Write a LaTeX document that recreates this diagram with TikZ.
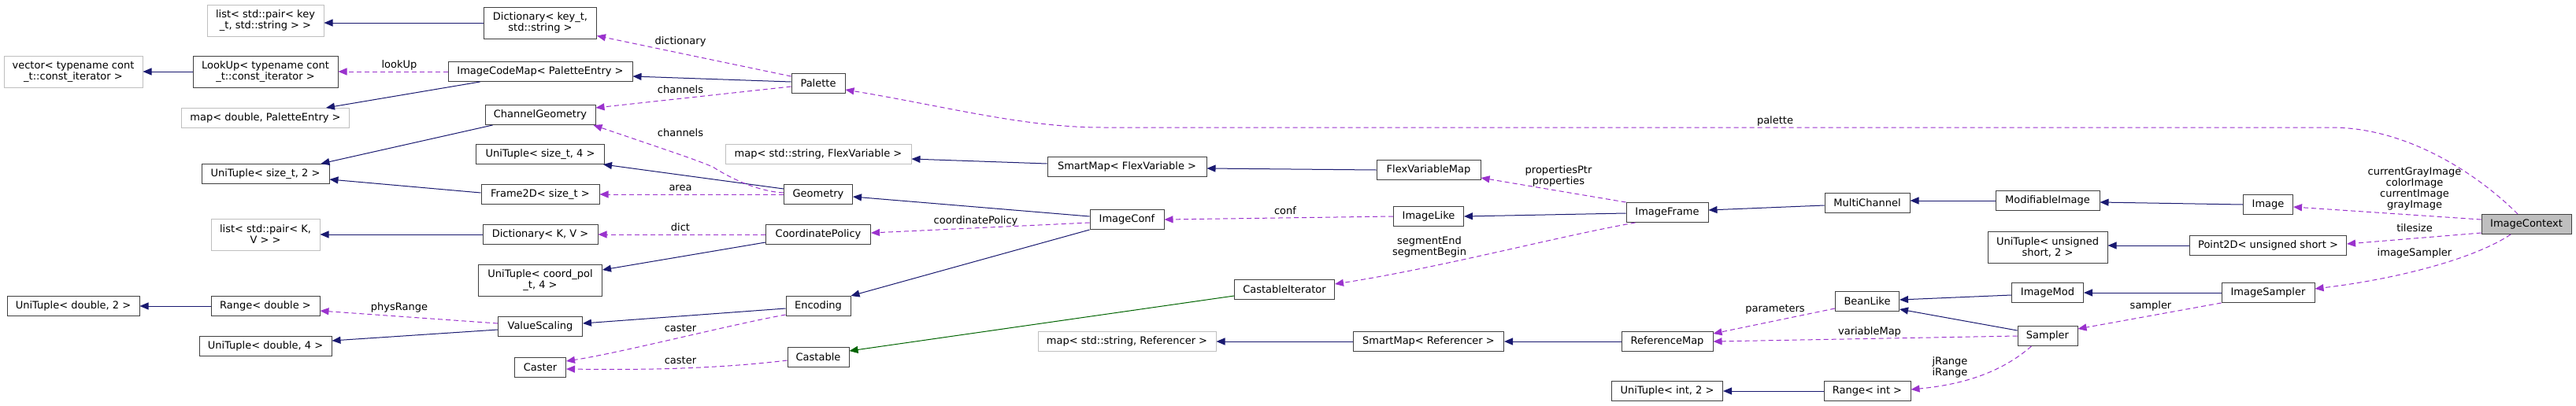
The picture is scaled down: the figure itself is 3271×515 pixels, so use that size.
\documentclass[tikz,border=0pt]{standalone}
\usepackage{fontspec}
\setmainfont{DejaVu Sans}
\usetikzlibrary{arrows.meta}
\definecolor{inhc}{HTML}{191970}
\definecolor{usec}{HTML}{9A32CD}
\definecolor{protc}{HTML}{006400}
\definecolor{bordc}{HTML}{404040}
\definecolor{extc}{HTML}{BFBFBF}
\newcommand\dfs{\fontsize{13}{14}\selectfont}
\tikzset{
  cls/.style={draw=bordc, line width=1pt, fill=white, inner sep=0pt, minimum height=25pt, align=center, font=\dfs, text=black},
  ext/.style={cls, draw=extc},
  tall/.style={minimum height=40pt},
  inh/.style={draw=inhc, line width=1pt, -{Triangle[length=11pt,width=9pt]}},
  use/.style={draw=usec, line width=1pt, dash pattern=on 6pt off 4pt, -{Triangle[length=11pt,width=9pt]}},
  prot/.style={draw=protc, line width=1pt, -{Triangle[length=11pt,width=9pt]}},
  lbl/.style={font=\dfs, inner sep=0pt, align=center, text=black},
}
\begin{document}
\begin{tikzpicture}[x=1pt,y=-1pt]
\useasboundingbox[fill=white] (0,0) rectangle (3271,515);
% column 1
\node[ext,tall,minimum width=176pt] (vec) at (93,91) {vector< typename cont\\\_t::const\_iterator >};
\node[cls,minimum width=168pt] (ut2d) at (93,389) {UniTuple< double, 2 >};
% column 2
\node[ext,tall,minimum width=148pt] (lstkey) at (337,26) {list< std::pair< key\\\_t, std::string > >};
\node[cls,tall,minimum width=184pt] (lookup) at (337,91) {LookUp< typename cont\\\_t::const\_iterator >};
\node[ext,minimum width=213pt] (mapdbl) at (337,150) {map< double, PaletteEntry >};
\node[cls,minimum width=162pt] (ut2sz) at (337,221) {UniTuple< size\_t, 2 >};
\node[ext,tall,minimum width=138pt] (lstkv) at (337,298) {list< std::pair< K,\\V > >};
\node[cls,minimum width=138pt] (rngd) at (337,389) {Range< double >};
\node[cls,minimum width=168pt] (ut4d) at (337,440) {UniTuple< double, 4 >};
% column 3
\node[cls,tall,minimum width=143pt] (dictkey) at (686,29) {Dictionary< key\_t,\\std::string >};
\node[cls,minimum width=234pt] (icm) at (686,91) {ImageCodeMap< PaletteEntry >};
\node[cls,minimum width=140pt] (chgeo) at (686,146) {ChannelGeometry};
\node[cls,minimum width=163pt] (ut4sz) at (686,196) {UniTuple< size\_t, 4 >};
\node[cls,minimum width=150pt] (frame) at (686,247) {Frame2D< size\_t >};
\node[cls,minimum width=146pt] (dictkv) at (686,298) {Dictionary< K, V >};
\node[cls,tall,minimum width=157pt] (utcp) at (686,356) {UniTuple< coord\_pol\\\_t, 4 >};
\node[cls,minimum width=107pt] (vscale) at (686,415) {ValueScaling};
\node[cls,minimum width=65pt] (caster) at (686,467) {Caster};
% column 4
\node[cls,minimum width=68pt] (palette) at (1039,106) {Palette};
\node[ext,minimum width=236pt] (mapflex) at (1039,196) {map< std::string, FlexVariable >};
\node[cls,minimum width=87pt] (geometry) at (1039,247) {Geometry};
\node[cls,minimum width=133pt] (coordpol) at (1039,298) {CoordinatePolicy};
\node[cls,minimum width=82pt] (encoding) at (1039,389) {Encoding};
\node[cls,minimum width=78pt] (castable) at (1039,454) {Castable};
% column 5
\node[cls,minimum width=202pt] (smflex) at (1431,212) {SmartMap< FlexVariable >};
\node[cls,minimum width=94pt] (imgconf) at (1431,279) {ImageConf};
\node[ext,minimum width=226pt] (mapref) at (1431,434) {map< std::string, Referencer >};
\node[cls,minimum width=127pt] (castit) at (1631,368) {CastableIterator};
% column 6
\node[cls,minimum width=132pt] (flexmap) at (1814,216) {FlexVariableMap};
\node[cls,minimum width=89pt] (imglike) at (1814,275) {ImageLike};
\node[cls,minimum width=191pt] (smref) at (1814,434) {SmartMap< Referencer >};
% column 7
\node[cls,minimum width=104pt] (imgframe) at (2117,270) {ImageFrame};
\node[cls,minimum width=116pt] (refmap) at (2117,434) {ReferenceMap};
\node[cls,minimum width=141pt] (ut2int) at (2117,497) {UniTuple< int, 2 >};
% column 8
\node[cls,minimum width=108pt] (multich) at (2371,258) {MultiChannel};
\node[cls,minimum width=81pt] (beanlike) at (2371,383) {BeanLike};
\node[cls,minimum width=110pt] (rngint) at (2371,497) {Range< int >};
% column 9
\node[cls,minimum width=132pt] (modimg) at (2600,255) {ModifiableImage};
\node[cls,tall,minimum width=152pt] (utus) at (2600,314) {UniTuple< unsigned\\short, 2 >};
\node[cls,minimum width=91pt] (imgmod) at (2600,372) {ImageMod};
\node[cls,minimum width=76pt] (sampler) at (2600,427) {Sampler};
% column 10
\node[cls,minimum width=63pt] (image) at (2880,260) {Image};
\node[cls,minimum width=199pt] (point2d) at (2880,312) {Point2D< unsigned short >};
\node[cls,minimum width=118pt] (imgsampler) at (2880,372) {ImageSampler};
% root
\node[cls,fill=extc,minimum width=114pt] (ctx) at (3208,285) {ImageContext};

% edges
\draw[inh] (dictkey.west) -- (dictkey.west -| lstkey.east);
\draw[inh] (lookup) -- (vec);
\draw[inh] ([xshift=41pt]icm.south west) -- ([xshift=-30pt]mapdbl.north east);
\draw[inh] ([yshift=2pt]palette.west) -- ([yshift=-6pt]icm.east);
\draw[inh] ([xshift=10pt]chgeo.south west) -- ([xshift=-11pt]ut2sz.north east);
\draw[inh] ([yshift=2pt]frame.west) -- ([yshift=-7pt]ut2sz.east);
\draw[inh] ([yshift=7pt]geometry.west) -- ([xshift=-2pt]ut4sz.south east);
\draw[use] (geometry) -- (frame);
\draw[use] ([yshift=2pt]geometry.west) .. controls (960,243) and (925,225) .. (905,212) .. controls (880,202) .. ([xshift=-3pt]chgeo.south east);
\draw[use] ([yshift=-4pt]palette.west) -- ([yshift=9pt]chgeo.east);
\draw[use] ([yshift=-4pt]palette.north west) -- ([yshift=4pt]dictkey.south east);
\draw[use] (icm) -- (lookup);
\draw[inh] (dictkv) -- (lstkv);
\draw[use] (coordpol) -- (dictkv);
\draw[inh] ([yshift=-10pt]coordpol.west) -- ([yshift=13pt]utcp.east);
\draw[inh] (rngd) -- (ut2d);
\draw[use] ([yshift=4pt]vscale.west) -- ([yshift=-6pt]rngd.east);
\draw[inh] ([yshift=-4pt]vscale.west) -- ([yshift=7pt]ut4d.east);
\draw[inh] ([yshift=-3pt]encoding.west) -- ([yshift=4pt]vscale.east);
\draw[use] ([yshift=-11pt]encoding.west) .. controls (930,412) and (790,448) .. ([yshift=8pt]caster.east);
\draw[use] ([yshift=-4pt]castable.west) .. controls (900,470) and (800,470) .. ([yshift=-2pt]caster.east);
\draw[inh] ([yshift=4pt]imgconf.west) -- ([yshift=-3pt]geometry.east);
\draw[use] ([yshift=-4pt]imgconf.west) -- ([yshift=2pt]coordpol.east);
\draw[inh] (imgconf.south west) -- (encoding.north east);
\draw[prot] ([yshift=-8pt]castit.west) -- ([yshift=8pt]castable.east);
\draw[inh] ([yshift=4pt]smflex.west) -- ([yshift=-6pt]mapflex.east);
\draw[inh] (flexmap.west) -- ([yshift=-2pt]smflex.east);
\draw[use] (imglike.west) -- (imgconf.east);
\draw[inh] ([yshift=-1pt]imgframe.west) -- (imglike.east);
\draw[use] (imgframe.north west) -- ([yshift=3pt]flexmap.south east);
\draw[use] ([xshift=12pt]imgframe.south west) .. controls (1980,300) and (1830,340) .. ([yshift=7pt]castit.east);
\draw[inh] ([yshift=-3pt]multich.west) -- ([yshift=3pt]imgframe.east);
\draw[inh] (modimg.west) -- (modimg.west -| multich.east);
\draw[inh] (image.west) -- ([yshift=-2pt]modimg.east);
\draw[use] ([xshift=-11pt]ctx.north) .. controls (3150,225) and (3060,162) .. (2960,162) -- (1400,162) .. controls (1300,162) and (1200,135) .. ([yshift=-8pt]palette.east);
\draw[use] ([yshift=6pt]ctx.west) -- ([yshift=-3pt]image.east);
\draw[use] ([yshift=-11pt]ctx.west) -- ([yshift=2pt]point2d.east);
\draw[use] ([xshift=-20pt]ctx.south) .. controls (3140,330) and (3040,355) .. ([yshift=5pt]imgsampler.east);
\draw[inh] (point2d.west) -- (point2d.west -| utus.east);
\draw[inh] (imgsampler) -- (imgmod);
\draw[use] (imgsampler.south west) -- ([yshift=9pt]sampler.east);
\draw[inh] ([yshift=-3pt]imgmod.west) -- ([yshift=2pt]beanlike.east);
\draw[inh] ([yshift=7pt]sampler.west) -- ([yshift=3pt]beanlike.south east);
\draw[use] ([yshift=-9pt]beanlike.west) -- ([yshift=-3pt]refmap.north east);
\draw[use] (sampler.west) -- (refmap.east);
\draw[use] ([xshift=18pt]sampler.south west) .. controls (2545,470) and (2500,488) .. ([yshift=2pt]rngint.east);
\draw[inh] (rngint) -- (ut2int);
\draw[inh] (refmap) -- (smref);
\draw[inh] (smref) -- (mapref);

% labels
\node[lbl] (l1) at (864,53) {dictionary};
\node[lbl] (l2) at (507,83) {lookUp};
\node[lbl] (l3) at (864,114) {channels};
\node[lbl] (l4) at (864,169) {channels};
\node[lbl] (l5) at (864,239) {area};
\node[lbl] (l6) at (864,289) {dict};
\node[lbl] (l7) at (507,391) {physRange};
\node[lbl] (l8) at (864,417) {caster};
\node[lbl] (l9) at (864,458) {caster};
\node[lbl] (l10) at (1239,281) {coordinatePolicy};
\node[lbl] (l11) at (1632,268) {conf};
\node[lbl] (l12) at (1979,224) {propertiesPtr\\properties};
\node[lbl] (l13) at (1815,314) {segmentEnd\\segmentBegin};
\node[lbl] (l14) at (2254,154) {palette};
\node[lbl] (l15) at (2254,393) {parameters};
\node[lbl] (l16) at (2374,422) {variableMap};
\node[lbl] (l17) at (2731,389) {sampler};
\node[lbl] (l18) at (2476,467) {jRange\\iRange};
\node[lbl] (l19) at (3066,240) {currentGrayImage\\colorImage\\currentImage\\grayImage};
\node[lbl] (l20) at (3066,290) {tilesize};
\node[lbl] (l21) at (3066,322) {imageSampler};
\end{tikzpicture}
\end{document}
